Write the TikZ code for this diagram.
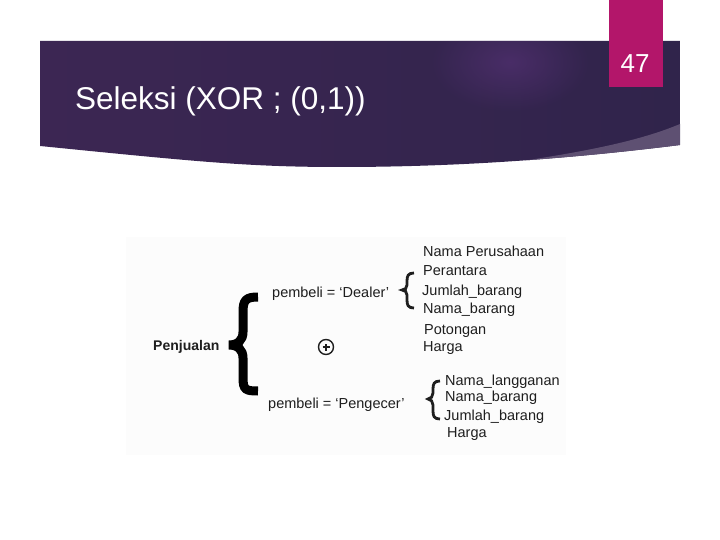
\documentclass[tikz,border=0pt]{standalone}
\usepackage{fontspec}
\usetikzlibrary{fadings}
\setmainfont{Liberation Sans}
\definecolor{bandL}{HTML}{3C2653}
\definecolor{bandM}{HTML}{6A2F65}
\definecolor{bandR}{HTML}{30244B}
\definecolor{bandG}{HTML}{5E5072}
\definecolor{glow}{HTML}{4F2F6E}
\definecolor{pinkbox}{HTML}{B3166A}
\definecolor{imgbg}{HTML}{FCFCFC}
\definecolor{ink}{HTML}{1E1E1E}
\tikzfading[name=myglow, inner color=transparent!20, outer color=transparent!100]
\begin{document}
\begin{tikzpicture}[x=1pt,y=-1pt,
  lbl/.style={anchor=base west,inner sep=0pt,font=\fontsize{14.5}{17}\selectfont,text=ink},
  smallbrace/.style={draw=ink,line width=2.8pt},
  bigbrace/.style={draw=black,line width=9pt}]
\useasboundingbox (0,0) rectangle (720,540);
\fill[white] (0,0) rectangle (720,540);
% banner
\begin{scope}
\clip (40,41) -- (680,41) -- (680,145) .. controls (560,160) and (450,167) .. (340,167) .. controls (250,167) and (200,162) .. (40,146) -- cycle;
\shade[left color=bandL, middle color=bandM, right color=bandR] (40,41) rectangle (680,170);
\fill[glow, path fading=myglow] (510,62) ellipse (80pt and 50pt);
\fill[bandG] (460,170) .. controls (560,156) and (630,145) .. (680,124) -- (690,124) -- (690,175) -- cycle;
\end{scope}
\fill[pinkbox] (609,0) rectangle (663,87);
\node[anchor=base,text=white,inner sep=0pt,font=\fontsize{26}{30}\selectfont] (num) at (635,73) {47};
\node[anchor=base west,text=white,inner sep=0pt,font=\fontsize{31.5}{36}\selectfont] (title) at (75,110) {Seleksi (XOR ; (0,1))};
% pasted image area
\fill[imgbg] (126,237) rectangle (566,455);
\node[lbl,font=\bfseries\fontsize{14}{17}\selectfont] (pj) at (153,350) {Penjualan};
\draw[bigbrace] (258,297) .. controls (246,297) and (243,300) .. (243,312) -- (243,332) .. controls (243,340) and (238,345) .. (229,345) .. controls (238,345) and (243,350) .. (243,358) -- (243,378) .. controls (243,390) and (246,391) .. (258,391);
\node[lbl] (dealer) at (272,297) {pembeli = ‘Dealer’};
\node[lbl] (pengecer) at (268,408) {pembeli = ‘Pengecer’};
\node[circle,draw=ink,line width=1.4pt,minimum size=15pt,inner sep=0pt] (xor) at (326,347) {};
\draw[ink,line width=1.2pt] ([xshift=-3.5pt]xor.center) -- ([xshift=3.5pt]xor.center) ([yshift=-3.5pt]xor.center) -- ([yshift=3.5pt]xor.center);
% dealer brace
\draw[smallbrace] (414,273) .. controls (408,273) and (407,276) .. (407,281) -- (407,285) .. controls (407,288) and (405,290) .. (402,290) .. controls (405,290) and (407,292) .. (407,295) -- (407,300) .. controls (407,305) and (408,308) .. (414,308);
\node[lbl] (d1) at (423,256) {Nama Perusahaan};
\node[lbl] (d2) at (423,275) {Perantara};
\node[lbl] (d3) at (422,295) {Jumlah\_barang};
\node[lbl] (d4) at (423,313) {Nama\_barang};
\node[lbl] (d5) at (424,334) {Potongan};
\node[lbl] (d6) at (423,351) {Harga};
% pengecer brace
\draw[smallbrace] (440,381) .. controls (434,381) and (433,384) .. (433,389) -- (433,393) .. controls (433,396) and (431,399) .. (428,399) .. controls (431,399) and (433,402) .. (433,405) -- (433,411) .. controls (433,416) and (434,419) .. (440,419);
\node[lbl] (p1) at (445,385) {Nama\_langganan};
\node[lbl] (p2) at (445,401) {Nama\_barang};
\node[lbl] (p3) at (444,420) {Jumlah\_barang};
\node[lbl] (p4) at (447,437) {Harga};
\end{tikzpicture}
\end{document}
